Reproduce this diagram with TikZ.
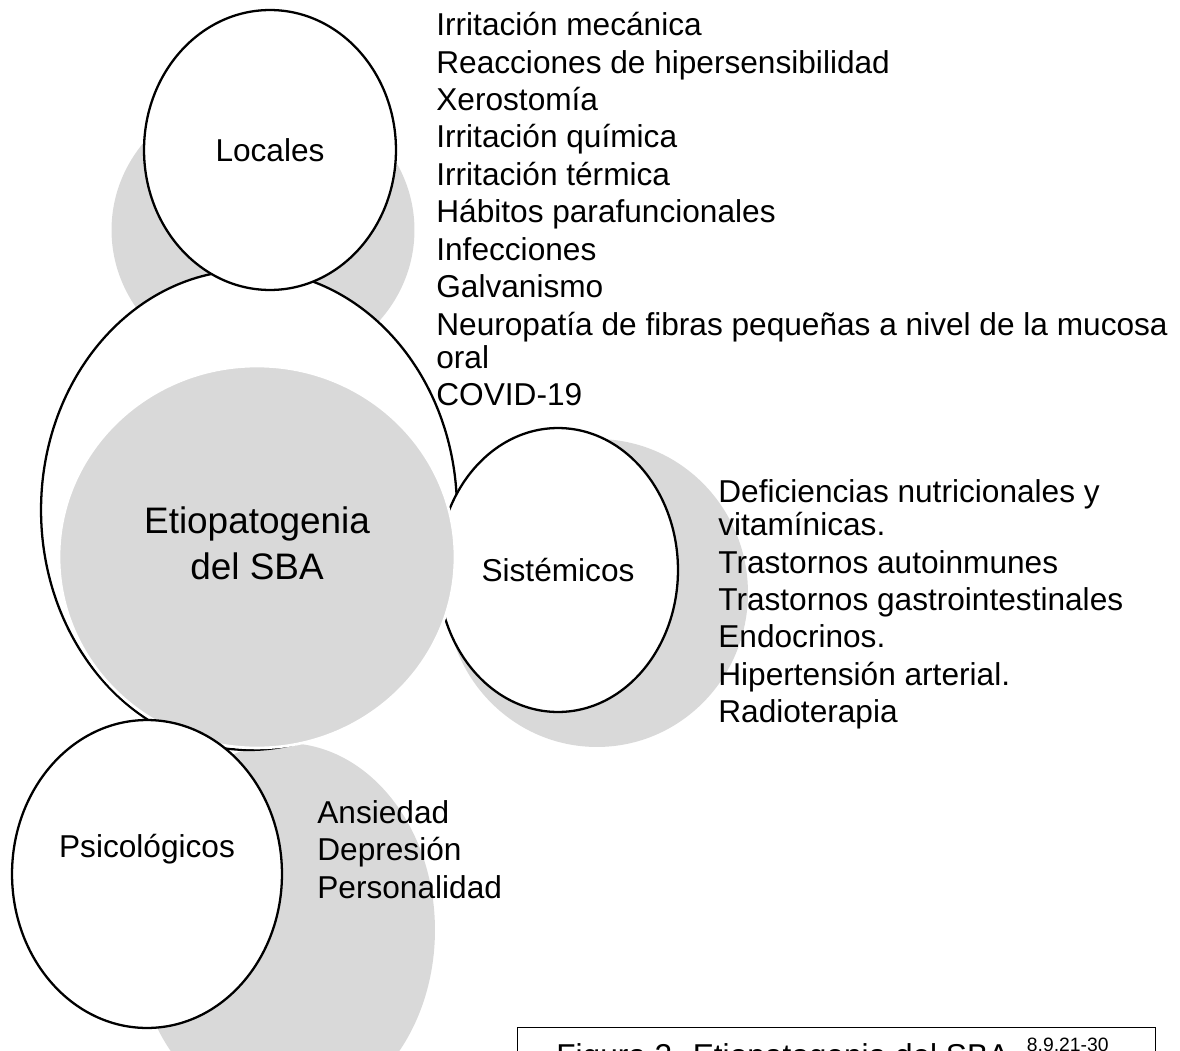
\documentclass[tikz,border=0pt]{standalone}
\usepackage{fontspec}
\setmainfont{Liberation Sans}
\usetikzlibrary{shapes.geometric}
\definecolor{shadegray}{RGB}{217,217,217}

\begin{document}
\begin{tikzpicture}[x=0.02cm, y=-0.02cm,
  bubble/.style={ellipse, draw=black, line width=1.3pt, fill=white,
    inner sep=0pt, font=\fontsize{18}{21.3}\selectfont},
  shade/.style={ellipse, fill=shadegray, inner sep=0pt},
  factors/.style={anchor=north west, align=left, inner sep=0pt,
    font=\fontsize{18}{21.3}\selectfont},
  capbox/.style={draw=black, line width=0.8pt, anchor=north west,
    minimum width=12.76cm, minimum height=2cm},
]
\useasboundingbox (0,0) rectangle (1180,1051);
\clip (0,0) rectangle (1180,1051);

% shadows behind the bubbles
\node[shade, minimum width=6.06cm, minimum height=5.68cm] (loc-sh) at (263,230) {};
\node[shade, minimum width=6.04cm, minimum height=6.16cm] (sis-sh) at (597,593) {};
\node[shade, minimum width=6.0cm, minimum height=7.48cm] (psi-sh) at (285,930) {};

\node[bubble, minimum width=8.32cm, minimum height=9.6cm] (etio) at (249,510) {};
\node[bubble, minimum width=5.04cm, minimum height=5.6cm] (loc) at (270,150) {Locales};
\node[bubble, minimum width=4.8cm, minimum height=5.68cm] (sis) at (558,570) {Sistémicos};
\node[shade, draw=white, line width=1.5pt, minimum width=7.92cm,
  minimum height=7.64cm] (etio-sh) at (257,557) {};
\node[align=center, font=\fontsize{21}{26}\selectfont] (etio-t) at (257,543)
  {Etiopatogenia\\del SBA};
\node[bubble, minimum width=5.4cm, minimum height=6.16cm] (psi) at (147,874) {};
\node[font=\fontsize{18}{21.3}\selectfont] (psi-t) at (147,849) {Psicológicos};

% factor lists
\node[factors] (loc-list) at (436,12) {%
  Irritación mecánica\\
  Reacciones de hipersensibilidad\\
  Xerostomía\\
  Irritación química\\
  Irritación térmica\\
  Hábitos parafuncionales\\
  Infecciones\\
  Galvanismo\\
  Neuropatía de fibras pequeñas a nivel de la mucosa\\[-0.08cm]
  oral\\
  COVID-19};
\node[factors] (sis-list) at (718,479) {%
  Deficiencias nutricionales y\\[-0.08cm]
  vitamínicas.\\
  Trastornos autoinmunes\\
  Trastornos gastrointestinales\\
  Endocrinos.\\
  Hipertensión arterial.\\
  Radioterapia};
\node[factors] (psi-list) at (317,800) {%
  Ansiedad\\
  Depresión\\
  Personalidad};

\node[capbox] (caption) at (517,1027) {};
\node[anchor=base west, inner sep=0pt, font=\fontsize{18}{21.3}\selectfont]
  (caption-t) at (556,1066)
  {Figura 2. Etiopatogenia del SBA.
   \raisebox{0.45em}{\fontsize{11}{12}\selectfont 8,9,21-30}};
\end{tikzpicture}
\end{document}
